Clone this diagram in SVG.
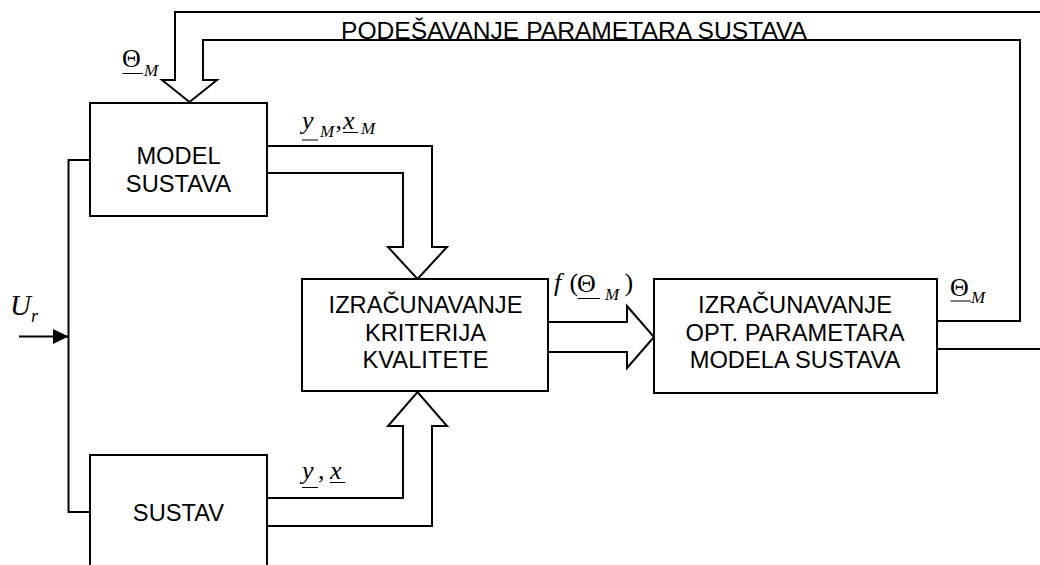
<svg xmlns="http://www.w3.org/2000/svg" width="1040" height="565" viewBox="0 0 1040 565">
<style>
.box{fill:#fff;stroke:#000;stroke-width:2}
.ln{fill:none;stroke:#000;stroke-width:2;stroke-linejoin:miter}
.ul{stroke:#000;stroke-width:1}
.t{font-family:"Liberation Sans",Arial,sans-serif;font-size:23.7px;fill:#000;text-anchor:middle}
.m{font-family:"Liberation Serif","Times New Roman",serif;font-size:26px;fill:#000}
.i{font-style:italic}
.s{font-family:"Liberation Serif","Times New Roman",serif;font-size:17px;font-style:italic;fill:#000}
</style>
<defs>
<marker id="ah" markerWidth="16" markerHeight="15" refX="15.5" refY="7.5" orient="auto" markerUnits="userSpaceOnUse">
<path d="M0,0 L15.5,7.5 L0,15 Z" fill="#000"/>
</marker>
</defs>
<rect width="1040" height="565" fill="#fff"/>
<g id="connectors">
<path class="ln" d="M1042 12 H175 V80 H162 L189.5 102 L217 80 H203 V40 H1020 V321 H937"/>
<path class="ln" d="M937 349 H1042"/>
<path class="ln" d="M267 146 H432 V247 H447 L417.5 279 L388 247 H403 V173 H267"/>
<path class="ln" d="M267 498 H403 V426 H388 L417.5 392 L447 426 H432 V526 H267"/>
<path class="ln" d="M548 322 H627 V306 L654 337 L627 368 V352 H548"/>
<path class="ln" d="M90 160 H68.5 V512 H90"/>
<line class="ln" x1="19" y1="336.5" x2="68.5" y2="336.5" marker-end="url(#ah)"/>
</g>
<g id="labels">
<text class="t" x="341" y="39" style="text-anchor:start" textLength="466" lengthAdjust="spacingAndGlyphs">PODEŠAVANJE PARAMETARA SUSTAVA</text>
<g id="lbl-theta-top">
<text class="m" x="122" y="66.5">Θ</text>
<line class="ul" x1="122.5" y1="73.5" x2="143" y2="73.5"/>
<text class="s" x="144" y="76">M</text>
</g>
<g id="lbl-yx-model">
<text class="m i" x="302" y="128.5">y</text>
<line class="ul" x1="302" y1="140" x2="318" y2="140"/>
<text class="s" x="320" y="137">M</text>
<text class="m" x="335.5" y="129">,</text>
<text class="m i" x="343" y="128.5">x</text>
<line class="ul" x1="343" y1="132.5" x2="358" y2="132.5"/>
<text class="s" x="361" y="133.5">M</text>
</g>
<g id="lbl-f">
<text class="m i" x="554" y="290.5">f</text>
<text class="m" x="569.5" y="291">(</text>
<text class="m" x="577" y="291.5">Θ</text>
<line class="ul" x1="577.5" y1="298.5" x2="600" y2="298.5"/>
<text class="s" x="605" y="300">M</text>
<text class="m" x="624.5" y="291">)</text>
</g>
<g id="lbl-theta-right">
<text class="m" x="950" y="295.5">Θ</text>
<line class="ul" x1="950.5" y1="301" x2="971" y2="301"/>
<text class="s" x="971" y="303">M</text>
</g>
<g id="lbl-yx">
<text class="m i" x="302" y="478.5">y</text>
<line class="ul" x1="302" y1="487.5" x2="318" y2="487.5"/>
<text class="m" x="318" y="479">,</text>
<text class="m i" x="330" y="478.5">x</text>
<line class="ul" x1="330" y1="482.5" x2="345" y2="482.5"/>
</g>
<g id="lbl-ur">
<text class="m i" x="10" y="315" style="font-size:29px">U</text>
<text class="s" x="31" y="321.5" style="font-size:18px">r</text>
</g>
</g>
<g id="model">
<rect class="box" x="90" y="103" width="177" height="113"/>
<text class="t" x="178.5" y="164.3">MODEL</text>
<text class="t" x="178.5" y="191.7">SUSTAVA</text>
</g>
<g id="crit">
<rect class="box" x="302" y="279" width="246" height="112"/>
<text class="t" x="425.5" y="313.3">IZRAČUNAVANJE</text>
<text class="t" x="425.5" y="340.7">KRITERIJA</text>
<text class="t" x="425.5" y="367.8">KVALITETE</text>
</g>
<g id="opt">
<rect class="box" x="654" y="279" width="283" height="114"/>
<text class="t" x="795" y="313.3">IZRAČUNAVANJE</text>
<text class="t" x="795" y="340.7">OPT. PARAMETARA</text>
<text class="t" x="795" y="368.3">MODELA SUSTAVA</text>
</g>
<g id="sustav">
<rect class="box" x="90" y="455" width="177" height="120"/>
<text class="t" x="178.5" y="521">SUSTAV</text>
</g>
</svg>
